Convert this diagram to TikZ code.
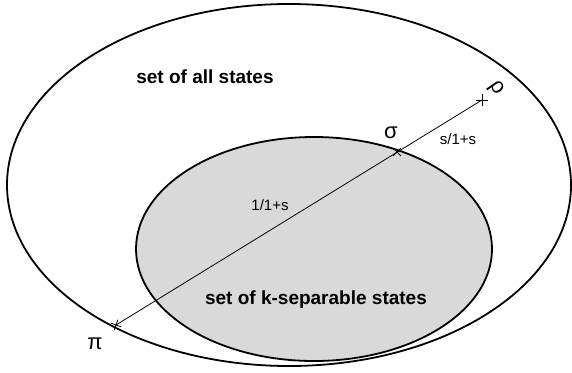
\documentclass[tikz,border=0pt]{standalone}
\usepackage{fontspec}
\setmainfont{Liberation Sans}
\usetikzlibrary{shapes.misc}
\tikzset{set/.style={line width=1.8pt},seg/.style={line width=.8pt},
  xcross/.style={draw,cross out,minimum size=7pt,inner sep=0pt,line width=.8pt},
  pcross/.style={xcross,rotate=45},
  big/.style={font=\fontsize{19}{22}\selectfont\bfseries},
  lab/.style={font=\fontsize{15}{18}\selectfont},
  greek/.style={font=\fontsize{22}{24}\selectfont}}

\begin{document}
\begin{tikzpicture}[x=1pt,y=-1pt]
\useasboundingbox (0,0) rectangle (572,372);
\draw[set] (289,185) ellipse (282 and 181);
\draw[set,fill=black!15] (314,249) ellipse (178 and 112);
\coordinate (pi) at (116,325);\coordinate (sig) at (397,152);\coordinate (rho) at (482,100);
\draw[seg] (pi)--(rho);
\node[pcross,rotate=-20] (mpi) at (pi){};\node[xcross] (msig) at (sig){};\node[pcross] (mrho) at (rho){};
\node[greek] (lpi) at (95,344){π};\node[greek] (lsig) at (391,133){σ};\node[greek,rotate=-55] (lrho) at (496,89){ρ};
\node[lab] (frac1) at (270,205){1/1+s};\node[lab] (frac2) at (458,139){s/1+s};
\node[big] (all) at (205,77){set of all states};
\node[big] (sep) at (316,300){set of k-separable states};
\end{tikzpicture}
\end{document}
